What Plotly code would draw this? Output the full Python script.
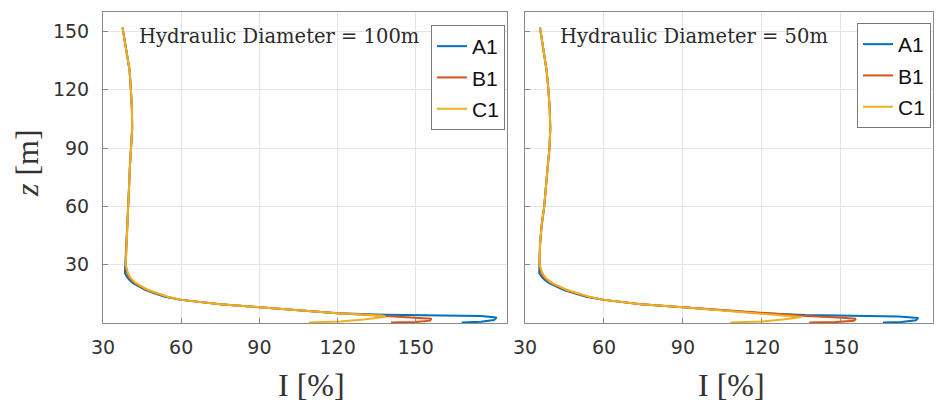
import plotly.graph_objects as go

# ---------------- data ----------------
# Upper (shared) profile heights, top -> down
z_upper = [152, 140, 130, 120, 110, 100, 90, 80, 70, 60, 50, 40, 30, 25.7, 23.8, 22.3, 20.5, 18.7, 17.0, 15.3, 13.5, 11.9, 9.6, 8.1, 5.0]

# Hydraulic Diameter = 100 m
I100_upper = [37.5, 39.0, 40.2, 40.7, 41.1, 41.2, 40.7, 40.3, 40.0, 39.7, 39.2, 38.9, 38.7, 39.2, 39.9, 40.8, 42.3, 44.5, 47.0, 50.5, 54.5, 60.0, 75.0, 90.0, 120.0]
I100_upper_shift = {"A1": -0.8, "B1": 0.0, "C1": 0.4}
z100_tail = {
    "A1": [4.2, 4.0, 3.6, 2.8, 1.5, 0.6, 0.3],
    "B1": [3.6, 2.8, 2.2, 1.2, 0.5, 0.3],
    "C1": [3.8, 3.2, 1.8, 0.8, 0.3],
}
I100_tail = {
    "A1": [138.4, 160.0, 175.0, 181.0, 180.0, 175.0, 167.6],
    "B1": [138.4, 150.0, 156.0, 155.5, 150.0, 140.5],
    "C1": [137.0, 138.5, 130.0, 121.0, 109.0],
}

# Hydraulic Diameter = 50 m
I50_upper = [35.7, 37.0, 38.2, 38.9, 39.4, 39.6, 39.3, 38.6, 38.0, 37.3, 36.3, 35.7, 35.5, 36.2, 37.1, 38.2, 40.0, 42.6, 45.6, 49.6, 54.0, 60.0, 74.0, 90.0, 120.0]
I50_upper_shift = {"A1": -0.8, "B1": 0.0, "C1": 0.4}
z50_tail = {
    "A1": [4.1, 3.8, 3.4, 2.6, 1.4, 0.5, 0.3],
    "B1": [3.6, 2.8, 2.2, 1.2, 0.5, 0.3],
    "C1": [3.6, 3.1, 1.8, 0.8, 0.3],
}
I50_tail = {
    "A1": [136.5, 158.0, 172.0, 179.4, 178.5, 173.0, 166.0],
    "B1": [137.0, 149.0, 155.7, 155.0, 148.0, 138.0],
    "C1": [133.0, 135.0, 128.0, 120.0, 108.0],
}

series = ["A1", "B1", "C1"]
colors = {"A1": "#0072BD", "B1": "#D95319", "C1": "#EDB120"}
x_ticks = [30, 60, 90, 120, 150]
y_ticks = [30, 60, 90, 120, 150]
titles = ["Hydraulic Diameter = 100m", "Hydraulic Diameter = 50m"]

# ---------------- figure ----------------
fig = go.Figure()

panels = [
    (I100_upper, I100_upper_shift, z100_tail, I100_tail, "x", "y", "legend"),
    (I50_upper, I50_upper_shift, z50_tail, I50_tail, "x2", "y2", "legend2"),
]
for up, shift, zt, It, xa, ya, lg in panels:
    for s in series:
        xs = [v + (shift[s] if 12 < z < 27 else 0) for v, z in zip(up, z_upper)] + It[s]
        zs = list(z_upper) + zt[s]
        fig.add_trace(go.Scatter(
            x=xs, y=zs, mode="lines", name=s,
            line=dict(color=colors[s], width=2),
            xaxis=xa, yaxis=ya, legend=lg, showlegend=True,
            legendgroup=lg + s,
        ))

W, H = 937, 404
ml, mr, mt, mb = 103, 4, 12, 81
pw = W - ml - mr
ph = H - mt - mb

def px_x(p):
    return (p - ml) / pw

def px_y(p):
    return 1 - (p - mt) / ph

tickfont = dict(family="DejaVu Sans", size=19, color="#333333")

axis_common = dict(
    range=[30, 185], tickvals=x_ticks, ticks="inside", ticklen=5, tickcolor="#888888",
    showgrid=True, gridcolor="#e4e4e4", gridwidth=1,
    showline=True, linecolor="#8a8a8a", linewidth=1, mirror=True,
    tickfont=tickfont, ticklabelstandoff=7,
    zeroline=False,
)
yaxis_common = dict(
    range=[0, 160], tickvals=y_ticks, ticks="inside", ticklen=5, tickcolor="#888888",
    showgrid=True, gridcolor="#e4e4e4", gridwidth=1,
    showline=True, linecolor="#8a8a8a", linewidth=1, mirror=True,
    tickfont=tickfont, ticklabelstandoff=9,
    zeroline=False,
)

legend_common = dict(
    bgcolor="white", bordercolor="#7a7a7a", borderwidth=1,
    font=dict(family="Liberation Sans", size=21, color="#111111"),
    xanchor="right", yanchor="top", tracegroupgap=1,
)

fig.update_layout(
    width=W, height=H,
    margin=dict(l=ml, r=mr, t=mt, b=mb),
    paper_bgcolor="white", plot_bgcolor="white",
    xaxis=dict(domain=[0, px_x(507)], anchor="y", **axis_common),
    xaxis2=dict(domain=[px_x(525), 1], anchor="y2", **axis_common),
    yaxis=dict(domain=[0, 1], anchor="x", **yaxis_common),
    yaxis2=dict(domain=[0, 1], anchor="x2", showticklabels=False, **yaxis_common),
    legend=dict(x=px_x(505), y=px_y(25), **legend_common),
    legend2=dict(x=px_x(931), y=px_y(23), **legend_common),
    showlegend=True,
)

annots = [
    dict(text=titles[0], x=px_x(137), y=px_y(36), xanchor="left", yanchor="middle"),
    dict(text=titles[1], x=px_x(558), y=px_y(36), xanchor="left", yanchor="middle"),
]
for a in annots:
    fig.add_annotation(xref="paper", yref="paper", showarrow=False,
                       font=dict(family="DejaVu Serif", size=19.5, color="#2a2a2a"), **a)

# axis titles
fig.add_annotation(xref="paper", yref="paper", showarrow=False, text="<i>z</i> [m]",
                   x=px_x(27), y=px_y(163), textangle=-90, xanchor="center", yanchor="middle",
                   font=dict(family="Liberation Serif", size=32, color="#333333"))
for cx in (311, 731):
    fig.add_annotation(xref="paper", yref="paper", showarrow=False, text="I [%]",
                       x=px_x(cx), y=px_y(385), xanchor="center", yanchor="middle",
                       font=dict(family="Liberation Serif", size=32, color="#333333"))

fig.write_html("out.html")
